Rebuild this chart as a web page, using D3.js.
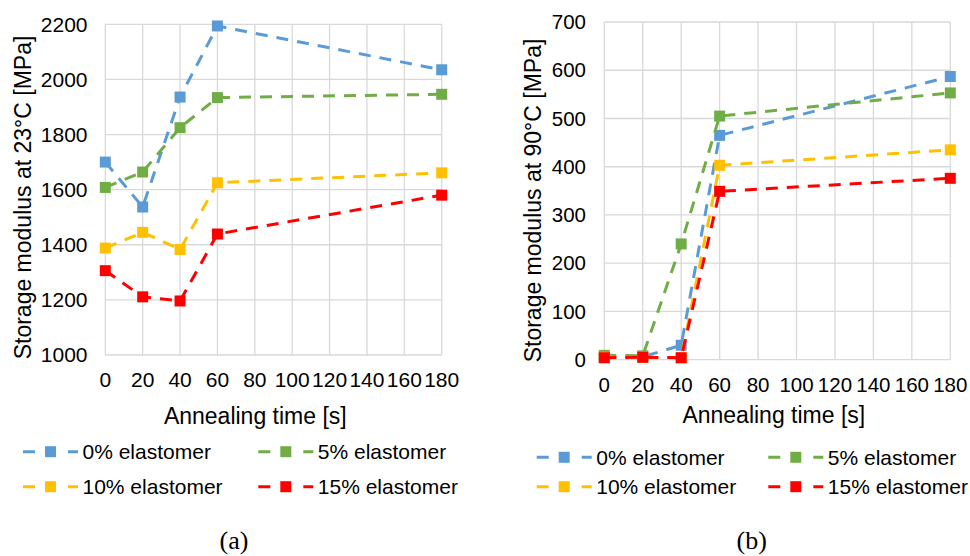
<!DOCTYPE html>
<html>
<head>
<meta charset="utf-8">
<script src="https://cdn.jsdelivr.net/npm/d3@7"></script>
<style>
	body { margin: 0; background: #fff; }
	svg text { font-family: "Liberation Sans", Arial, sans-serif; fill: #000; }
</style>
</head>
<body>
<svg id="chart" width="970" height="556"></svg>
<script>
// Data
var times = [0, 20, 40, 60, 180];
var xTicks = [0, 20, 40, 60, 80, 100, 120, 140, 160, 180];
var seriesNames = ["0% elastomer", "5% elastomer", "10% elastomer", "15% elastomer"];
var seriesColors = ["#5B9BD5", "#70AD47", "#FFC000", "#FF0000"];

// (a) storage modulus at 23°C [MPa]
var e23_0 = [1700, 1537, 1936, 2194, 2035];
var e23_5 = [1608, 1664, 1825, 1934, 1946];
var e23_10 = [1388, 1445, 1383, 1625, 1661];
var e23_15 = [1306, 1211, 1196, 1439, 1580];
var yTicks23 = [1000, 1200, 1400, 1600, 1800, 2000, 2200];

// (b) storage modulus at 90°C [MPa]
var e90_0 = [5, 6, 30, 465, 587];
var e90_5 = [9, 8, 240, 505, 553];
var e90_10 = [5, 5, 4, 403, 435];
var e90_15 = [4, 5, 4, 349, 376];
var yTicks90 = [0, 100, 200, 300, 400, 500, 600, 700];

var svg = d3.select("#chart");
var gridColor = "#d9d9d9";

function drawChart(opts){
	var g = svg.append("g");
	var x = d3.scaleLinear().domain([0, 180]).range([opts.left, opts.right]);
	var y = d3.scaleLinear().domain(opts.yDomain).range([opts.bottom, opts.top]);

	// Gridlines
	g.selectAll(".hgrid").data(opts.yTicks).enter().append("line")
		.attr("x1", opts.left).attr("x2", opts.right)
		.attr("y1", function(d){ return y(d); }).attr("y2", function(d){ return y(d); })
		.attr("stroke", gridColor).attr("stroke-width", 1.3);
	g.selectAll(".vgrid").data(xTicks).enter().append("line")
		.attr("y1", opts.top).attr("y2", opts.bottom)
		.attr("x1", function(d){ return x(d); }).attr("x2", function(d){ return x(d); })
		.attr("stroke", gridColor).attr("stroke-width", 1.3);

	// Tick labels
	g.selectAll(".ytick").data(opts.yTicks).enter().append("text")
		.attr("x", opts.yLabelX).attr("y", function(d){ return y(d); })
		.attr("dy", "0.35em").attr("text-anchor", "end")
		.style("font-size", opts.tickSize + "px")
		.text(function(d){ return d; });
	g.selectAll(".xtick").data(xTicks).enter().append("text")
		.attr("x", function(d){ return x(d); }).attr("y", opts.xLabelY)
		.attr("dy", "0.35em").attr("text-anchor", "middle")
		.style("font-size", opts.tickSize + "px")
		.text(function(d){ return d; });

	// Axis titles
	g.append("text")
		.attr("transform", "translate(" + opts.yTitleX + "," + opts.yTitleY + ") rotate(-90)")
		.attr("dy", "0.35em").attr("text-anchor", "middle")
		.style("font-size", "23px")
		.text(opts.yTitle);
	g.append("text")
		.attr("x", opts.xTitleX).attr("y", opts.xTitleY)
		.attr("dy", "0.35em").attr("text-anchor", "middle")
		.style("font-size", "23px")
		.text("Annealing time [s]");

	// Series
	var line = d3.line()
		.x(function(d){ return x(d[0]); })
		.y(function(d){ return y(d[1]); });
	opts.series.forEach(function(values, i){
		var pts = times.map(function(t, j){ return [t, values[j]]; });
		var s = g.append("g");
		s.append("path")
			.attr("d", line(pts))
			.attr("fill", "none")
			.attr("stroke", seriesColors[i])
			.attr("stroke-width", 3)
			.attr("stroke-dasharray", "12,9");
		s.selectAll("rect").data(pts).enter().append("rect")
			.attr("x", function(d){ return x(d[0]) - 5.5; })
			.attr("y", function(d){ return y(d[1]) - 5.5; })
			.attr("width", 11).attr("height", 11)
			.attr("fill", seriesColors[i]);
	});

	// Legend
	seriesNames.forEach(function(name, i){
		var lx = opts.legendCols[i % 2];
		var ly = opts.legendRows[Math.floor(i / 2)];
		var lg = g.append("g").attr("transform", "translate(" + lx + "," + ly + ")");
		lg.append("line")
			.attr("x1", 0).attr("x2", 55).attr("y1", 0).attr("y2", 0)
			.attr("stroke", seriesColors[i]).attr("stroke-width", 3)
			.attr("stroke-dasharray", "12,33");
		lg.append("rect")
			.attr("x", 27.5 - 5.5).attr("y", -5.5)
			.attr("width", 11).attr("height", 11)
			.attr("fill", seriesColors[i]);
		lg.append("text")
			.attr("x", 59.5).attr("y", 0).attr("dy", "0.35em")
			.style("font-size", "21px")
			.text(name);
	});

	// Caption
	g.append("text")
		.attr("x", opts.captionX).attr("y", 540)
		.attr("dy", "0.35em").attr("text-anchor", "middle")
		.style("font-family", "'Liberation Serif', 'Times New Roman', serif")
		.style("font-size", "26px")
		.text(opts.caption);
}

drawChart({
	left: 105.3, right: 441.7, top: 24.3, bottom: 355,
	yDomain: [1000, 2200], yTicks: yTicks23,
	series: [e23_0, e23_5, e23_10, e23_15],
	tickSize: 21, yLabelX: 87.5, xLabelY: 380,
	yTitle: "Storage modulus at 23°C [MPa]", yTitleX: 22.5, yTitleY: 197.5,
	xTitleX: 255.3, xTitleY: 416,
	legendCols: [23, 258.3], legendRows: [451.7, 486.7],
	caption: "(a)", captionX: 234
});

drawChart({
	left: 604.3, right: 950.3, top: 22, bottom: 359.7,
	yDomain: [0, 700], yTicks: yTicks90,
	series: [e90_0, e90_5, e90_10, e90_15],
	tickSize: 20.5, yLabelX: 586, xLabelY: 385,
	yTitle: "Storage modulus at 90°C [MPa]", yTitleX: 533.3, yTitleY: 200.5,
	xTitleX: 773.8, xTitleY: 415,
	legendCols: [536.7, 768.3], legendRows: [457.3, 486.7],
	caption: "(b)", captionX: 751.7
});
</script>
</body>
</html>
